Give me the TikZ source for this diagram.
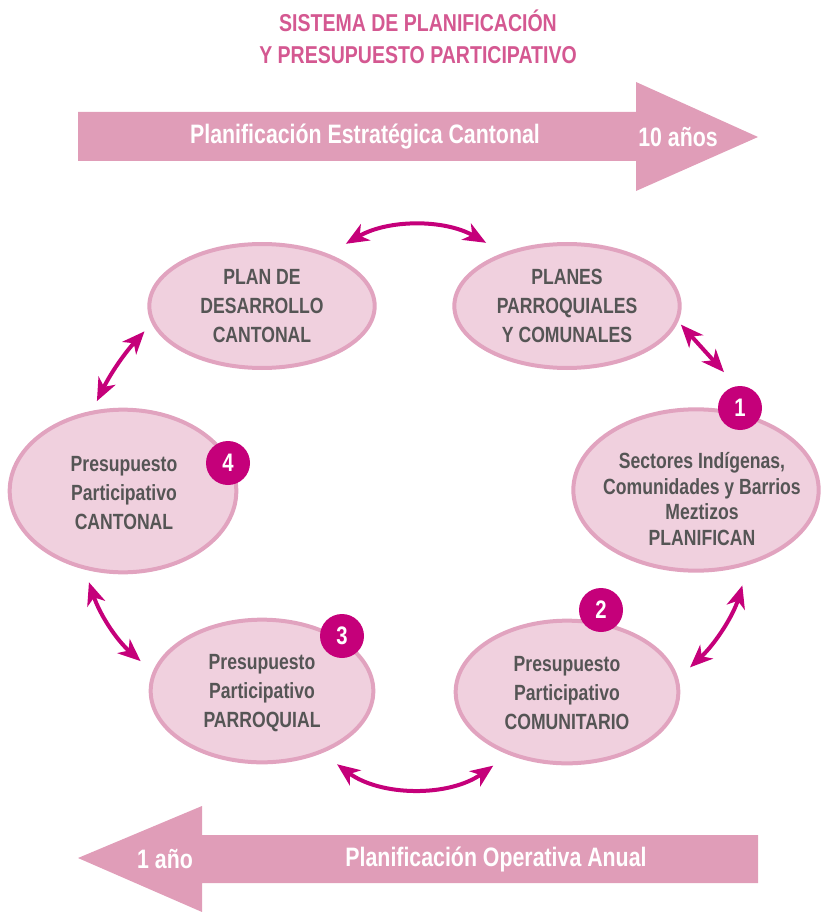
\documentclass[tikz,border=0pt]{standalone}
\usepackage{fontspec}
\setmainfont{Liberation Sans}[FakeStretch=0.8]
\usepackage{xcolor}
\usepackage{tikz}
\usetikzlibrary{shapes.geometric,arrows.meta,calc}

\definecolor{cinta}{RGB}{224,157,184}
\definecolor{relleno}{RGB}{240,208,222}
\definecolor{borde}{RGB}{225,163,191}
\definecolor{fucsia}{RGB}{197,0,122}
\definecolor{titulo}{RGB}{212,88,145}
\definecolor{gris}{RGB}{85,85,85}

\tikzset{
  elli/.style={ellipse, draw=borde, line width=3pt, fill=relleno, inner sep=0pt},
  etext/.style={text=gris, align=center, inner sep=0.75pt, font=\bfseries\fontsize{16.5}{21.75}\selectfont},
  badge/.style={circle, fill=fucsia, text=white, minimum size=33pt, inner sep=0pt, font=\bfseries\fontsize{19}{19}\selectfont},
  link/.style={fucsia, line width=3pt, {Stealth[length=17pt,width=14pt,inset=5pt]}-{Stealth[length=17pt,width=14pt,inset=5pt]}},
  wtext/.style={text=white, inner sep=0.75pt, font=\bfseries\fontsize{20}{20}\selectfont}
}

\begin{document}
\begin{tikzpicture}[x=0.75pt,y=0.75pt,yscale=-1,xscale=1]
\useasboundingbox (0,0) rectangle (821,912);

% Text Node
\draw (418,37) node (tit) [text=titulo, align=center, inner sep=0.75pt, font=\bfseries\fontsize{18.3}{24}\selectfont] {SISTEMA DE PLANIFICACIÓN\\Y PRESUPUESTO PARTICIPATIVO};

%Shape: Right Arrow
\fill [cinta] (78,112) -- (636,112) -- (636,82) -- (758,137) -- (636,191) -- (636,161) -- (78,161) -- cycle ;
%Shape: Left Arrow
\fill [cinta] (758,835) -- (202,835) -- (202,806) -- (78,858) -- (202,912) -- (202,883) -- (758,883) -- cycle ;

% Text Node
\draw (365,137) node (pec) [wtext] {Planificación Estratégica Cantonal};
% Text Node
\draw (678,137) node (diez) [wtext] {10 años};
% Text Node
\draw (165,859) node (uno) [wtext] {1 año};
% Text Node
\draw (496,859) node (poa) [wtext] {Planificación Operativa Anual};

%Shape: Ellipse
\draw (262,306) node (pdc) [elli, minimum width=169pt, minimum height=93pt] {};
%Shape: Ellipse
\draw (567,306) node (ppc) [elli, minimum width=169pt, minimum height=93pt] {};
%Shape: Ellipse
\draw (696,490) node (sec) [elli, minimum width=184pt, minimum height=121pt] {};
%Shape: Ellipse
\draw (567,692) node (com) [elli, minimum width=167pt, minimum height=107pt] {};
%Shape: Ellipse
\draw (262,691) node (parr) [elli, minimum width=167pt, minimum height=107pt] {};
%Shape: Ellipse
\draw (123,491) node (can) [elli, minimum width=170pt, minimum height=122pt] {};

% Text Node
\draw (262,306) node [etext] {PLAN DE\\DESARROLLO\\CANTONAL};
% Text Node
\draw (567,306) node [etext] {PLANES\\PARROQUIALES\\Y COMUNALES};
% Text Node
\draw (702,499) node [etext, font=\bfseries\fontsize{16.5}{19.3}\selectfont] {Sectores Indígenas,\\Comunidades y Barrios\\Meztizos\\PLANIFICAN};
% Text Node
\draw (567,693) node [etext] {Presupuesto\\Participativo\\COMUNITARIO};
% Text Node
\draw (262,693) node [etext] {Presupuesto\\Participativo\\PARROQUIAL};
% Text Node
\draw (124,493) node [etext] {Presupuesto\\Participativo\\CANTONAL};

%Shape: Circle
\draw (740,408) node (n1) [badge] {1};
\draw (601,610) node (n2) [badge] {2};
\draw (342,636) node (n3) [badge] {3};
\draw (228,463) node (n4) [badge] {4};

%Curve Lines
\draw [link, shorten <=15pt, shorten >=15pt] (pdc.38) to [bend right=30] (ppc.140) ;
\draw [link, shorten <=3pt, shorten >=14pt] (ppc.-8) -- (n1.99) ;
\draw [link, shorten <=16pt, shorten >=12pt] (sec.-55) to [bend right=15] (com.7) ;
\draw [link, shorten <=14pt, shorten >=14pt] (parr.-46) to [bend left=36] (com.-133) ;
\draw [link, shorten <=10pt, shorten >=12pt] (can.-116) to [bend left=15] (parr.170) ;
\draw [link, shorten <=8pt, shorten >=8pt] (pdc.189) to [bend left=8] (can.111) ;

\end{tikzpicture}
\end{document}
